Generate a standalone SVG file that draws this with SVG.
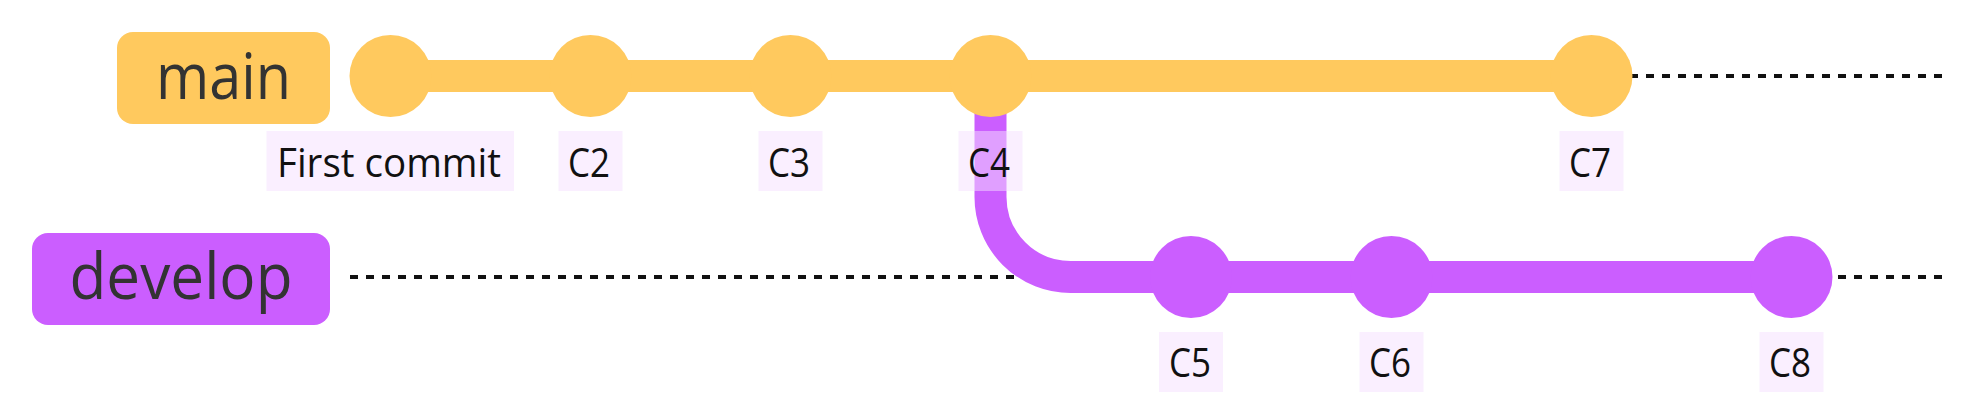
<svg xmlns="http://www.w3.org/2000/svg" width="1980" height="420" viewBox="0 0 1980 420">
<style>
.branch-line{stroke:#111;stroke-width:4;stroke-dasharray:8 8;fill:none}
.main-c{fill:#ffc95e}
.dev-c{fill:#cb5eff}
.main-arrow{stroke:#ffc95e;stroke-width:32;fill:none}
.dev-arrow{stroke:#cb5eff;stroke-width:32;fill:none}
.lbl-bkg{fill:#f5e0ff;opacity:0.5}
.lbl{font-family:"Trebuchet MS","Open Sans","DejaVu Sans",sans-serif;font-size:40px;fill:#111;text-anchor:middle}
.blbl{font-family:"Trebuchet MS","Open Sans","DejaVu Sans",sans-serif;font-size:64px;fill:#333;text-anchor:middle}
</style>
<rect width="1980" height="420" fill="#fff"/>
<g id="branch-lines">
<line class="branch-line" x1="350" y1="76" x2="1943" y2="76"/>
<line class="branch-line" x1="350" y1="277" x2="1943" y2="277"/>
</g>
<g id="connectors">
<path class="main-arrow" d="M390.5 76 H1591.5"/>
<path class="dev-arrow" d="M990.5 76 V197 A80 80 0 0 0 1070.5 277 H1791.5"/>
</g>
<g id="branch-main">
<rect class="main-c" x="117" y="32" width="213" height="92" rx="16"/>
<text class="blbl" x="223.5" y="99" textLength="135" lengthAdjust="spacingAndGlyphs">main</text>
</g>
<g id="branch-develop">
<rect class="dev-c" x="32" y="233" width="298" height="92" rx="16"/>
<text class="blbl" x="181" y="299" textLength="223" lengthAdjust="spacingAndGlyphs">develop</text>
</g>
<g id="commit-first">
<circle class="main-c" cx="390.5" cy="76" r="41"/>
<rect class="lbl-bkg" x="266.5" y="131" width="247.5" height="60"/>
<text class="lbl" x="389" y="177" textLength="224" lengthAdjust="spacingAndGlyphs">First commit</text>
</g>
<g id="commit-C2">
<circle class="main-c" cx="590.5" cy="76" r="41"/>
<rect class="lbl-bkg" x="558.5" y="131" width="64" height="60"/>
<text class="lbl" x="589" y="177" textLength="42" lengthAdjust="spacingAndGlyphs">C2</text>
</g>
<g id="commit-C3">
<circle class="main-c" cx="790.5" cy="76" r="41"/>
<rect class="lbl-bkg" x="758.5" y="131" width="64" height="60"/>
<text class="lbl" x="789" y="177" textLength="42" lengthAdjust="spacingAndGlyphs">C3</text>
</g>
<g id="commit-C4">
<circle class="main-c" cx="990.5" cy="76" r="41"/>
<rect class="lbl-bkg" x="958.5" y="131" width="64" height="60"/>
<text class="lbl" x="989" y="177" textLength="42" lengthAdjust="spacingAndGlyphs">C4</text>
</g>
<g id="commit-C7">
<circle class="main-c" cx="1591.5" cy="76" r="41"/>
<rect class="lbl-bkg" x="1559.5" y="131" width="64" height="60"/>
<text class="lbl" x="1590" y="177" textLength="42" lengthAdjust="spacingAndGlyphs">C7</text>
</g>
<g id="commit-C5">
<circle class="dev-c" cx="1191" cy="277" r="41"/>
<rect class="lbl-bkg" x="1159" y="332" width="64" height="60"/>
<text class="lbl" x="1190" y="377" textLength="42" lengthAdjust="spacingAndGlyphs">C5</text>
</g>
<g id="commit-C6">
<circle class="dev-c" cx="1391.5" cy="277" r="41"/>
<rect class="lbl-bkg" x="1359.5" y="332" width="64" height="60"/>
<text class="lbl" x="1390" y="377" textLength="42" lengthAdjust="spacingAndGlyphs">C6</text>
</g>
<g id="commit-C8">
<circle class="dev-c" cx="1791.5" cy="277" r="41"/>
<rect class="lbl-bkg" x="1759.5" y="332" width="64" height="60"/>
<text class="lbl" x="1790" y="377" textLength="42" lengthAdjust="spacingAndGlyphs">C8</text>
</g>
</svg>
